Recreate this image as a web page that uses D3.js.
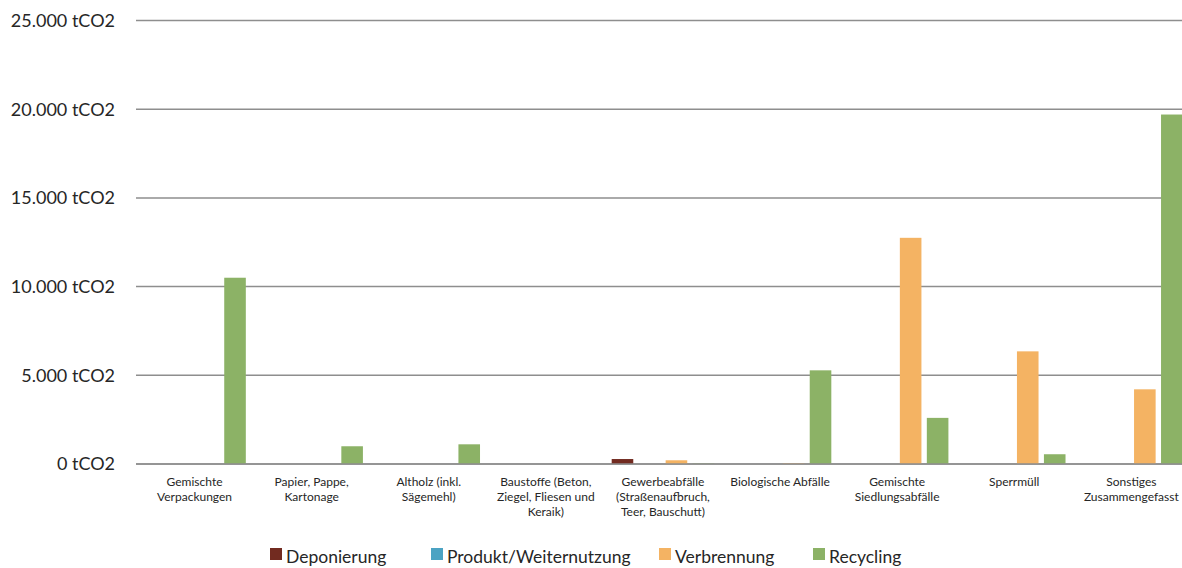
<!DOCTYPE html>
<html><head><meta charset="utf-8">
<script src="https://cdn.jsdelivr.net/npm/d3@7"></script>
<style>body{margin:0;background:#fff}svg{display:block}</style>
</head><body><svg id="c" width="1182" height="568"></svg>
<script>
const categories = [
  ["Gemischte","Verpackungen"],
  ["Papier, Pappe,","Kartonage"],
  ["Altholz (inkl.","Sägemehl)"],
  ["Baustoffe (Beton,","Ziegel, Fliesen und","Keraik)"],
  ["Gewerbeabfälle","(Straßenaufbruch,","Teer, Bauschutt)"],
  ["Biologische Abfälle"],
  ["Gemischte","Siedlungsabfälle"],
  ["Sperrmüll"],
  ["Sonstiges","Zusammengefasst"]
];
const seriesNames = ["Deponierung","Produkt/Weiternutzung","Verbrennung","Recycling"];
const deponierung = [0, 0, 0, 0, 280, 0, 0, 0, 0];
const produkt     = [0, 0, 0, 0, 0, 0, 0, 0, 0];
const verbrennung = [0, 0, 0, 0, 210, 40, 12750, 6350, 4210];
const recycling   = [10500, 1000, 1110, 0, 30, 5280, 2600, 550, 19700];
const yTicks = [0, 5000, 10000, 15000, 20000, 25000];
const colors = ["#722B20","#4BA3C3","#F4B363","#8CB266"];

const series = [deponierung, produkt, verbrennung, recycling];
const svg = d3.select("#c");
const keys = categories.map((c,i)=>i);
const x0 = d3.scaleBand().domain(keys).range([136, 136 + 9*117.1]).padding(0);
const x1 = d3.scaleBand().domain(d3.range(4)).range([0, x0.bandwidth()]).paddingInner(0.2).paddingOuter(0.27);
const y = d3.scaleLinear().domain([0, 25000]).range([464, 20.5]);
const fmt = v => d3.format(",")(v).replace(/,/g, ".") + " tCO2";

// gridlines
svg.append("g").selectAll("line").data(yTicks).join("line")
  .attr("x1", 136).attr("x2", 1182)
  .attr("y1", d => y(d)).attr("y2", d => y(d))
  .attr("stroke", "#8e8e8e").attr("stroke-width", 1.5);

// y labels
svg.append("g").selectAll("text").data(yTicks).join("text")
  .attr("x", 115).attr("y", d => y(d)).attr("dy", "0.35em")
  .attr("text-anchor", "end")
  .attr("font-family", "Lato, sans-serif").attr("font-size", 18).attr("fill", "#262626")
  .text(fmt);

// bars
const g = svg.append("g");
keys.forEach(i => {
  series.forEach((s, j) => {
    const v = s[i];
    if (v <= 0) return;
    g.append("rect")
      .attr("x", x0(i) + x1(j)).attr("width", x1.bandwidth())
      .attr("y", y(v)).attr("height", y(0) - y(v))
      .attr("fill", colors[j]);
  });
});
// baseline on top
svg.append("line").attr("x1",136).attr("x2",1182).attr("y1",y(0)).attr("y2",y(0))
  .attr("stroke","#8e8e8e").attr("stroke-width",1.5);

// category labels
const lab = svg.append("g").attr("font-family","Lato, sans-serif").attr("font-size",12).attr("fill","#262626").attr("text-anchor","middle");
keys.forEach(i => {
  const t = lab.append("text").attr("x", x0(i) + x0.bandwidth()/2).attr("y", 486);
  categories[i].forEach((line, k) => {
    t.append("tspan").attr("x", x0(i) + x0.bandwidth()/2).attr("y", 486 + k*15).text(line);
  });
});

// legend
const legX = [270, 431, 659, 813];
const leg = svg.append("g").attr("font-family","Lato, sans-serif").attr("font-size",17.5).attr("fill","#262626");
seriesNames.forEach((n, j) => {
  leg.append("rect").attr("x", legX[j]).attr("y", 548).attr("width", 12).attr("height", 12).attr("fill", colors[j]);
  leg.append("text").attr("x", legX[j] + 16).attr("y", 561).attr("dy", "0.1em").text(n);
});
</script></body></html>
